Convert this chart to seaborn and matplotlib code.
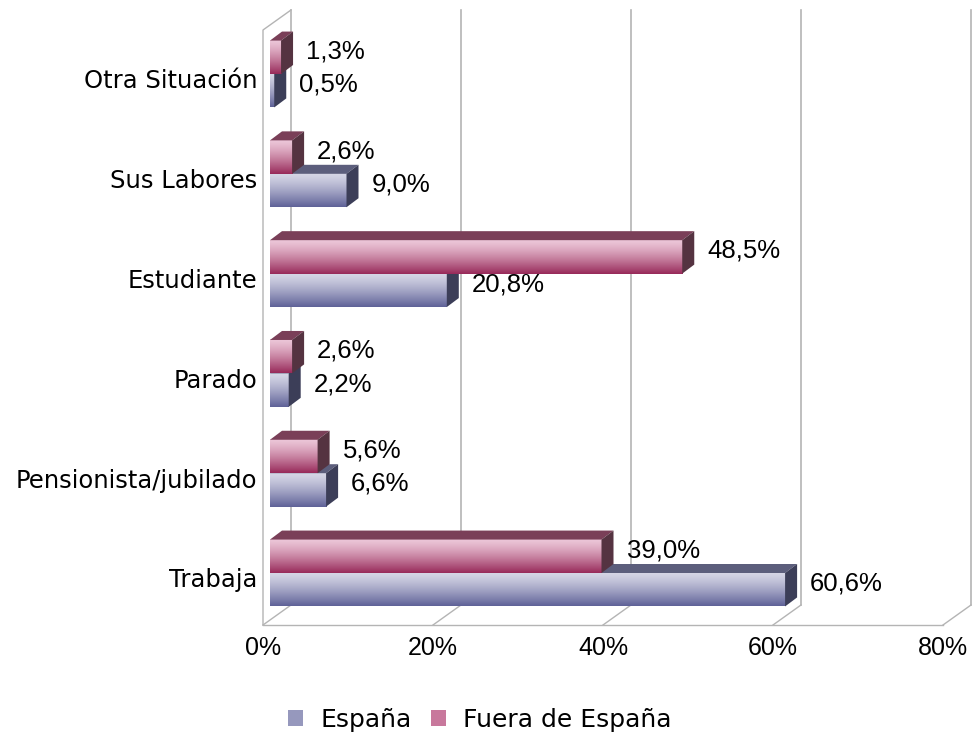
import numpy as np
import pandas as pd
import seaborn as sns
import matplotlib.pyplot as plt
from matplotlib.colors import to_rgb
from matplotlib.patches import Polygon, Patch
from matplotlib.transforms import ScaledTranslation


# datos
categorias = ["Otra Situación", "Sus Labores", "Estudiante", "Parado",
              "Pensionista/jubilado", "Trabaja"]
espana = [0.5, 9.0, 20.8, 2.2, 6.6, 60.6]
fuera = [1.3, 2.6, 48.5, 2.6, 5.6, 39.0]
series = ["España", "Fuera de España"]
ticks = [0, 20, 40, 60, 80]

df = pd.DataFrame({
    "situacion": categorias * 2,
    "porcentaje": espana + fuera,
    "origen": [series[0]] * len(categorias) + [series[1]] * len(categorias),
})

# colores (claro arriba, oscuro abajo, cara superior, cara lateral)
colores = {
    "España": ("#d6d6e6", "#5f6298", "#5c5e7c", "#3c3e58"),
    "Fuera de España": ("#ecc6d8", "#982a5a", "#7a3f58", "#553341"),
}

W, H = 977, 743
PX_X = 8.5          # px por punto porcentual
PX_Y = 99.8         # px por categoria
Y0 = 74             # pixel de la primera categoria

##############

fig = plt.figure(figsize=(W / 100, H / 100), dpi=100)
ax = fig.add_axes([263 / W, (H - 625) / H, 687 / W, 615 / H])

sns.barplot(data=df, y="situacion", x="porcentaje", hue="origen",
            order=categorias, hue_order=["Fuera de España", "España"],
            orient="h", width=0.67, legend=False, ax=ax,
            palette={s: colores[s][1] for s in series})


def px_y(p):
    return (p - Y0) / PX_Y


ddx = 12 / PX_X
ddy = 9 / PX_Y

# barras con degradado y caras 3D
for cont, serie in zip(ax.containers, ["Fuera de España", "España"]):
    claro, oscuro, arriba, lado = colores[serie]
    z = 3 if serie == "Fuera de España" else 2
    c1 = np.array(to_rgb(claro))
    c2 = np.array(to_rgb(oscuro))
    t = np.linspace(0, 1, 64)[:, None] ** 1.3
    grad = (c1 * (1 - t) + c2 * t)[:, None, :]
    for bar, val in zip(cont.patches, cont.datavalues):
        x, y = bar.get_x(), bar.get_y()
        w, h = bar.get_width(), bar.get_height()
        bar.set_alpha(0)
        ax.imshow(grad, extent=(x, x + w, y + h, y), aspect="auto",
                  zorder=z, interpolation="bilinear")
        ax.add_patch(Polygon([(x, y), (x + w, y), (x + w + ddx, y - ddy),
                              (x + ddx, y - ddy)], closed=True,
                             facecolor=arriba, edgecolor="none", zorder=z + 0.1))
        ax.add_patch(Polygon([(x + w, y), (x + w + ddx, y - ddy),
                              (x + w + ddx, y + h - ddy), (x + w, y + h)],
                             closed=True, facecolor=lado, edgecolor="none",
                             zorder=z + 0.1))
        etiqueta = "{:.1f}%".format(val).replace(".", ",")
        ax.text(x + w + 25 / PX_X, y + h / 2 - 6 / PX_Y, etiqueta,
                ha="left", va="center", fontsize=18.5,
                family="Liberation Sans", color="black", zorder=5)

# paredes y rejilla
gris = "#b4b4b4"
bx = 21 / PX_X      # desplazamiento plano del fondo
fx = -7 / PX_X      # desplazamiento plano frontal
y_top, y_back, y_front = px_y(10), px_y(605), px_y(625)
for v in ticks:
    ax.plot([v + bx, v + bx], [y_top, y_back], color=gris, lw=1.2,
            zorder=0.5, clip_on=False)
    ax.plot([v + fx, v + bx], [y_front, y_back], color=gris, lw=1,
            zorder=0.5, clip_on=False)
ax.plot([ticks[0] + fx, ticks[-1] + fx], [y_front, y_front], color=gris,
        lw=1, clip_on=False)
ax.plot([fx, fx, bx], [y_front, px_y(30), y_top], color=gris, lw=1,
        clip_on=False)

ax.set_xticks([v + fx for v in ticks])
ax.set_xticklabels(["{}%".format(v) for v in ticks], fontsize=18,
                   family="Liberation Sans")
ax.set_xlim(fx, fx + 687 / PX_X)
ax.set_ylim(px_y(625), px_y(10))
ax.tick_params(axis="x", length=0, pad=8)
ax.tick_params(axis="y", length=0, pad=4, labelsize=17.5)
for lab in ax.get_yticklabels():
    lab.set_transform(lab.get_transform() +
                      ScaledTranslation(0, -5 / 100, fig.dpi_scale_trans))
ax.set_xlabel("")
ax.set_ylabel("")
for s in ax.spines.values():
    s.set_visible(False)

# leyenda
handles = [Patch(facecolor="#9698bd", label="España"),
           Patch(facecolor="#c8789c", label="Fuera de España")]
fig.legend(handles=handles, loc="center", bbox_to_anchor=(480 / W, 1 - 720 / H),
           ncol=2, frameon=False, fontsize=18, handlelength=0.6,
           handleheight=0.6, handletextpad=0.68, columnspacing=0.8)

fig.savefig("out.png", dpi=100)
